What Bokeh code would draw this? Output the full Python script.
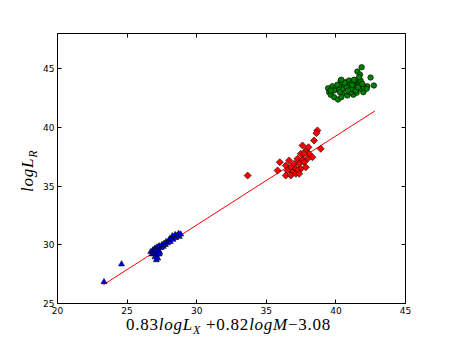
import math
from bokeh.plotting import figure
from bokeh.models import Range1d, FixedTicker, LinearAxis, Div
from bokeh.layouts import column, row
from bokeh.embed import file_html
from bokeh.resources import INLINE

# ---- data ----
blue_x = [23.34, 24.6, 26.7, 26.8, 26.85, 26.95, 27.0, 27.05, 27.1, 27.15, 27.25, 27.3, 27.35,
          27.45, 27.5, 27.6, 27.65, 27.75, 27.8, 27.9, 28.0, 28.05, 28.1, 28.2, 28.25, 28.3,
          28.4, 28.45, 28.5, 28.6, 28.7, 28.75, 28.85, 27.0, 27.1, 27.2, 27.3]
blue_y = [26.84, 28.35, 29.4, 29.2, 29.55, 29.3, 29.7, 29.45, 29.1, 29.8, 29.55, 29.9, 29.35,
          29.75, 30.0, 29.85, 30.1, 30.0, 30.25, 30.15, 30.35, 30.5, 30.25, 30.55, 30.75, 30.45,
          30.7, 30.85, 30.6, 30.8, 30.95, 30.7, 30.9, 28.95, 28.7, 28.85, 29.2]

red_x = [33.66, 38.67, 38.6, 38.43, 38.91, 37.6, 37.84, 37.48, 38.07, 38.31, 37.96, 37.24, 37.6,
         35.97, 37.0, 37.36, 37.72, 36.4, 36.76, 37.12, 37.48, 35.81, 36.52, 36.88, 37.24, 36.4,
         36.76, 37.12, 37.84, 37.36, 36.64, 38.03, 37.72]
red_y = [35.9, 39.74, 39.51, 38.88, 38.18, 38.46, 38.03, 37.75, 37.75, 37.46, 37.33, 37.33, 37.24,
         37.04, 36.9, 36.9, 37.04, 36.75, 36.61, 36.47, 36.47, 36.33, 36.33, 36.18, 36.33, 35.9,
         35.9, 36.05, 36.61, 36.05, 37.18, 38.31, 37.75]

green_x = [41.85, 41.54, 41.73, 42.49, 42.73, 42.26, 39.44, 39.51, 39.63, 39.87, 40.15, 39.75,
           39.99, 40.22, 40.34, 40.39, 40.58, 40.7, 40.94, 41.01, 41.18, 41.3, 41.25, 41.54,
           41.66, 41.78, 41.97, 42.01, 41.78, 40.47, 40.82, 41.06, 41.49, 40.1, 40.29, 40.53,
           40.77, 41.11, 41.42, 40.87, 39.87, 42.21, 41.59, 40.63, 41.18, 41.35, 41.9, 40.39,
           39.63, 41.66, 40.39, 41.3]
green_y = [45.13, 44.76, 44.5, 44.25, 43.57, 43.51, 43.34, 43.0, 42.78, 42.57, 42.38, 43.51,
           43.34, 43.2, 43.99, 43.71, 43.51, 43.85, 43.99, 43.63, 43.85, 43.42, 42.78, 43.8,
           43.57, 43.29, 43.0, 43.42, 43.99, 42.86, 42.72, 43.0, 42.95, 43.63, 43.0, 43.29,
           43.42, 43.29, 43.14, 43.14, 43.14, 43.29, 43.42, 43.8, 43.63, 43.99, 43.71, 42.57,
           43.14, 44.28, 44.06, 44.06]

fit_x = [23.3, 42.8]
fit_y = [26.6, 41.4]

x_ticks = [20, 25, 30, 35, 40, 45]
y_ticks = [25, 30, 35, 40, 45]

# ---- figure ----
p = figure(width=410, height=318, output_backend="svg", toolbar_location=None,
           x_range=Range1d(20, 45), y_range=Range1d(25, 48),
           min_border_left=16, min_border_right=45, min_border_top=33, min_border_bottom=15)
p.background_fill_color = "white"
p.border_fill_color = "white"
p.outline_line_color = "black"
p.outline_line_width = 1
p.xgrid.visible = False
p.ygrid.visible = False

tick_font = "DejaVu Sans"
for ax, ticks in ((p.xaxis[0], x_ticks), (p.yaxis[0], y_ticks)):
    ax.ticker = FixedTicker(ticks=ticks)
    ax.major_tick_in = 4
    ax.major_tick_out = 0
    ax.minor_tick_line_color = None
    ax.axis_line_color = "black"
    ax.major_label_text_font = tick_font
    ax.major_label_text_font_size = "9px"
    ax.major_label_text_color = "black"
    ax.major_label_standoff = 3

# extra axes for inward ticks on top and right (no labels)
top = LinearAxis(ticker=FixedTicker(ticks=x_ticks), major_tick_in=4, major_tick_out=0,
                 minor_tick_line_color=None, axis_line_color=None,
                 major_label_overrides={t: "" for t in x_ticks}, major_label_standoff=0)
right = LinearAxis(ticker=FixedTicker(ticks=y_ticks), major_tick_in=4, major_tick_out=0,
                   minor_tick_line_color=None, axis_line_color=None,
                   major_label_overrides={t: "" for t in y_ticks}, major_label_standoff=0)
p.add_layout(top, "above")
p.add_layout(right, "right")

# data
p.line(fit_x, fit_y, line_color="red", line_width=1)
p.scatter(blue_x, blue_y, marker="triangle", size=6, fill_color="#0000ff",
          line_color="black", line_width=0.6)
p.scatter(red_x, red_y, marker="square", angle=math.pi / 4, size=5, fill_color="#ff0000",
          line_color="black", line_width=0.6)
p.scatter(green_x, green_y, marker="circle", size=5.5, fill_color="#008000",
          line_color="black", line_width=0.6)

# ---- axis labels as rich text (upright numbers, italic variables, subscripts) ----
serif = ("font-family:'Liberation Serif',serif;font-size:17px;line-height:17px;"
         "letter-spacing:0.75px;color:black;white-space:nowrap;")
sub = "font-size:12px;position:relative;top:4px;"

x_label_html = (
    f'<div style="padding-left:126px;position:relative;top:-2px;{serif}">'
    f'0.83<i>logL</i><span style="{sub}"><i>X</i></span> +0.82<i>logM</i>\u22123.08'
    f'</div>'
)
y_label_html = (
    f'<div style="padding-top:192px;padding-left:19px;">'
    f'<div style="transform-origin:0 0;transform:rotate(-90deg);{serif}">'
    f'<i>logL</i><span style="{sub}"><i>R</i></span>'
    f'</div></div>'
)

ydiv = Div(text=y_label_html, width=40, height=318, margin=(0, 0, 0, 0))
xdiv = Div(text=x_label_html, width=450, height=18, margin=(0, 0, 0, 0))

layout = column(row(ydiv, p, spacing=0), xdiv, spacing=0)

open("out.html", "w").write(file_html(layout, INLINE))
